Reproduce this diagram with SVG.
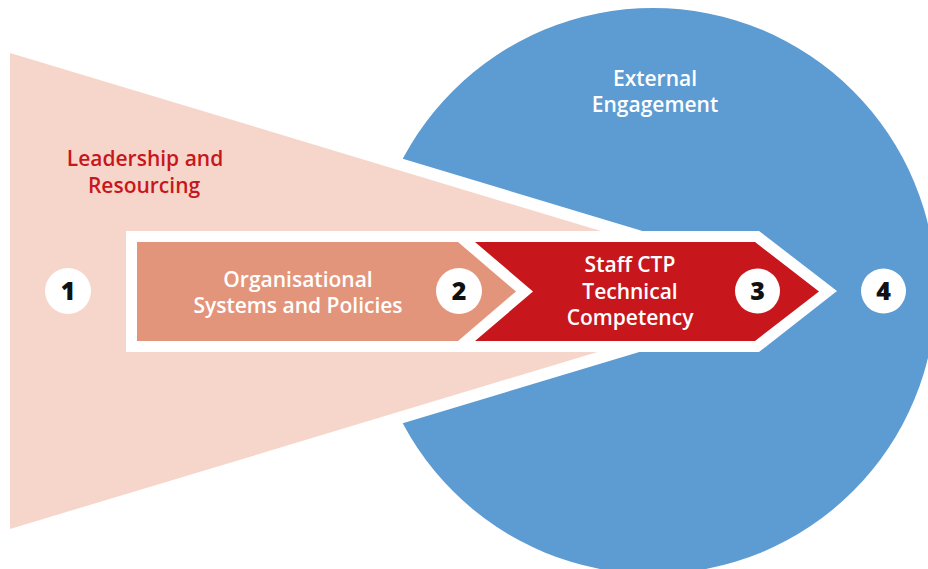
<svg xmlns="http://www.w3.org/2000/svg" width="928" height="569" viewBox="0 0 928 569">
  <style>
    .lbl { font-family: "Open Sans", "Liberation Sans", sans-serif; font-weight: 600; font-size: 21px; text-anchor: middle; }
    .wh { fill: #ffffff; }
    .rd { fill: #C8171C; }
    .num { font-family: "Open Sans", "Liberation Sans", sans-serif; font-weight: 800; font-size: 25px; text-anchor: middle; fill: #111111; }
    .badge { fill: #ffffff; }
  </style>
  <rect width="928" height="569" fill="#ffffff"/>
  <g id="external-engagement">
    <circle cx="653" cy="291" r="283" fill="#5D9BD3"/>
    <text class="lbl wh" x="655" y="86">External</text>
    <text class="lbl wh" x="655" y="112">Engagement</text>
  </g>
  <g id="leadership-resourcing">
    <polygon points="10,53 800,291 10,529" fill="#F6D6CA" stroke="#ffffff" stroke-width="24" stroke-linejoin="round"/>
    <polygon points="10,53 800,291 10,529" fill="#F6D6CA"/>
    <text class="lbl rd" x="145" y="166">Leadership and</text>
    <text class="lbl rd" x="144" y="193">Resourcing</text>
  </g>
  <g id="arrow-band">
    <polygon points="126,231 759,231 837,291 759,352 126,352" fill="#ffffff"/>
  </g>
  <g id="organisational-systems">
    <polygon points="137,242 458,242 516,291.5 458,341 137,341" fill="#E3957B"/>
    <text class="lbl wh" x="298" y="287">Organisational</text>
    <text class="lbl wh" x="298" y="313">Systems and Policies</text>
  </g>
  <g id="staff-ctp">
    <polygon points="475,242 755,242 819,291.5 755,341 475,341 533,291.5" fill="#C8171C"/>
    <text class="lbl wh" x="630" y="272">Staff CTP</text>
    <text class="lbl wh" x="630" y="299">Technical</text>
    <text class="lbl wh" x="630" y="325">Competency</text>
  </g>
  <g id="badge-1">
    <circle class="badge" cx="68" cy="291" r="23"/>
    <text class="num" x="68" y="300">1</text>
  </g>
  <g id="badge-2">
    <circle class="badge" cx="459" cy="291" r="23"/>
    <text class="num" x="459" y="300">2</text>
  </g>
  <g id="badge-3">
    <circle class="badge" cx="757.5" cy="291" r="22.5"/>
    <text class="num" x="757.5" y="300">3</text>
  </g>
  <g id="badge-4">
    <circle class="badge" cx="883.5" cy="291" r="22.5"/>
    <text class="num" x="883.5" y="300">4</text>
  </g>
  <g id="connectors"></g>
</svg>
